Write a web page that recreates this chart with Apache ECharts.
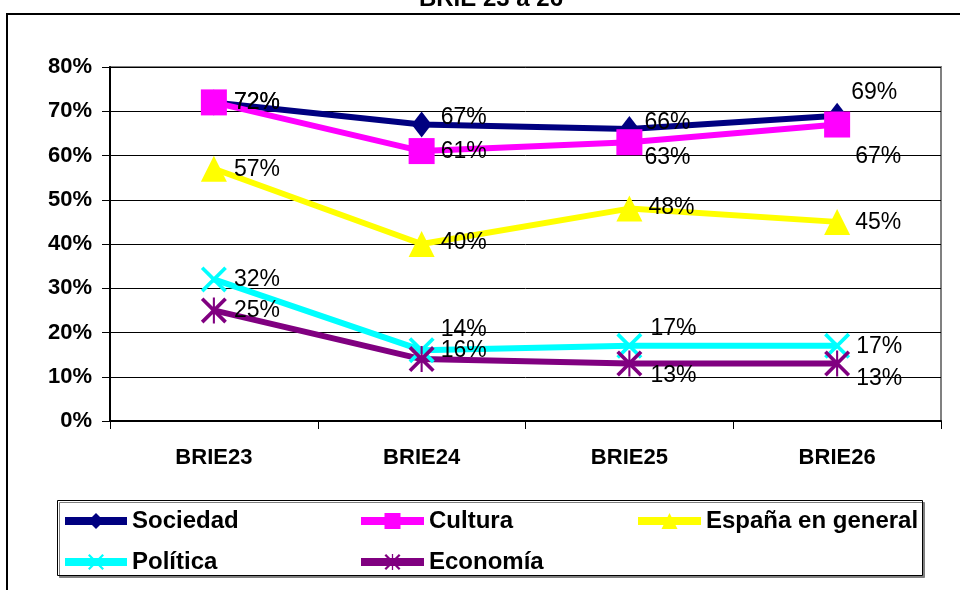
<!DOCTYPE html>
<html>
<head>
<meta charset="utf-8">
<script src="https://cdn.jsdelivr.net/npm/echarts@6/dist/echarts.min.js"></script>
<style>
  html, body { margin: 0; padding: 0; background: #fff; }
  #chart { width: 960px; height: 590px; }
</style>
</head>
<body>
<div id="chart"></div>
<script>
// datos
var categories = ['BRIE23', 'BRIE24', 'BRIE25', 'BRIE26'];
var sociedad = [72, 67, 66, 69];
var cultura = [72, 61, 63, 67];
var espana = [57, 40, 48, 45];
var politica = [32, 16, 17, 17];
var economia = [25, 14, 13, 13];

var FONT = 'Arial, "Liberation Sans", sans-serif';

// símbolos de trazo (aspa y asterisco) como polígonos rellenos
var symX = 'path://M0,1L1,0L10,9L9,10ZM9,0L10,1L1,10L0,9Z';
var symStar = 'path://M0,1L1,0L10,9L9,10ZM9,0L10,1L1,10L0,9ZM4.6,0L5.4,0L5.4,10L4.6,10Z';

// desplazamiento de cada etiqueta respecto al punto [dx, dy]
var offSociedad = [[20, 0], [19, -7], [15, -6], [14, -23]];
var offCultura = [[20, 0], [19, 1], [15, 15], [18, 32]];
var offEspana = [[20, 1], [19, -1], [19, -1], [18, 1]];
var offPolitica = [[20, 0], [19, 0], [21, -17], [19, 1]];
var offEconomia = [[20, 0], [19, -29], [21, 12], [19, 15]];

function makeSeries(name, color, symbol, size, values, offsets) {
  return {
    name: name,
    type: 'line',
    symbol: symbol,
    symbolSize: size,
    showAllSymbol: true,
    animation: false,
    lineStyle: { color: color, width: 6 },
    itemStyle: { color: color },
    label: {
      show: true,
      position: 'inside',
      align: 'left',
      verticalAlign: 'middle',
      formatter: '{c}%',
      color: '#000',
      fontFamily: FONT,
      fontSize: 23
    },
    labelLayout: function (params) {
      var o = offsets[params.dataIndex];
      return { dx: o[0], dy: o[1], hideOverlap: false };
    },
    data: values
  };
}

var chart = echarts.init(document.getElementById('chart'));

var legendText = { color: '#000', fontFamily: FONT, fontSize: 24, fontWeight: 'bold' };

function makeLegend(left, iconW, names) {
  return {
    orient: 'vertical', left: left, top: 509, padding: 0,
    itemWidth: iconW, itemHeight: 20, itemGap: 17,
    lineStyle: { width: 8 },
    textStyle: legendText,
    data: names
  };
}

var option = {
  backgroundColor: '#fff',
  animation: false,
  graphic: [
    {
      type: 'rect', z: 0,
      shape: { x: 7, y: 14, width: 1000, height: 1000 },
      style: { fill: 'none', stroke: '#000', lineWidth: 2 }
    },
    {
      type: 'rect', z: 0,
      shape: { x: 57.5, y: 500.5, width: 865, height: 75 },
      style: { fill: '#fff', stroke: '#000', lineWidth: 1, shadowColor: '#808080', shadowOffsetX: 2, shadowOffsetY: 2 }
    },
    {
      type: 'text', z: 0,
      style: {
        text: 'BRIE 23 a 26', x: 491, y: -1,
        textAlign: 'center', textVerticalAlign: 'middle',
        fill: '#000', font: 'bold 24px ' + FONT
      }
    }
  ],
  grid: {
    left: 110,
    right: 19,
    top: 67,
    bottom: 169,
    show: true,
    borderColor: '#808080',
    borderWidth: 2,
    backgroundColor: 'transparent'
  },
  legend: [
    makeLegend(61, 62, ['Sociedad', 'Política']),
    makeLegend(357, 63, ['Cultura', 'Economía']),
    makeLegend(634, 63, ['España en general'])
  ],
  xAxis: {
    type: 'category',
    data: categories,
    boundaryGap: true,
    axisLine: { lineStyle: { color: '#000', width: 2 } },
    axisTick: { show: true, length: 8, lineStyle: { color: '#000', width: 1 } },
    axisLabel: {
      color: '#000', fontFamily: FONT, fontSize: 22, fontWeight: 'bold', margin: 26
    },
    splitLine: { show: false }
  },
  yAxis: {
    type: 'value',
    min: 0,
    max: 80,
    interval: 10,
    axisLine: { show: true, lineStyle: { color: '#000', width: 2 } },
    axisTick: { show: true, length: 8, lineStyle: { color: '#000', width: 1 } },
    axisLabel: {
      formatter: '{value}%',
      color: '#000', fontFamily: FONT, fontSize: 22, fontWeight: 'bold', margin: 18
    },
    splitLine: { show: true, lineStyle: { color: '#000', width: 1 } }
  },
  series: [
    makeSeries('Sociedad', '#000080', 'diamond', [20, 26], sociedad, offSociedad),
    makeSeries('Cultura', '#FF00FF', 'rect', 26, cultura, offCultura),
    makeSeries('España en general', '#FFFF00', 'triangle', 26, espana, offEspana),
    makeSeries('Política', '#00FFFF', symX, 26, politica, offPolitica),
    makeSeries('Economía', '#800080', symStar, 26, economia, offEconomia)
  ]
};

chart.setOption(option);
</script>
</body>
</html>
